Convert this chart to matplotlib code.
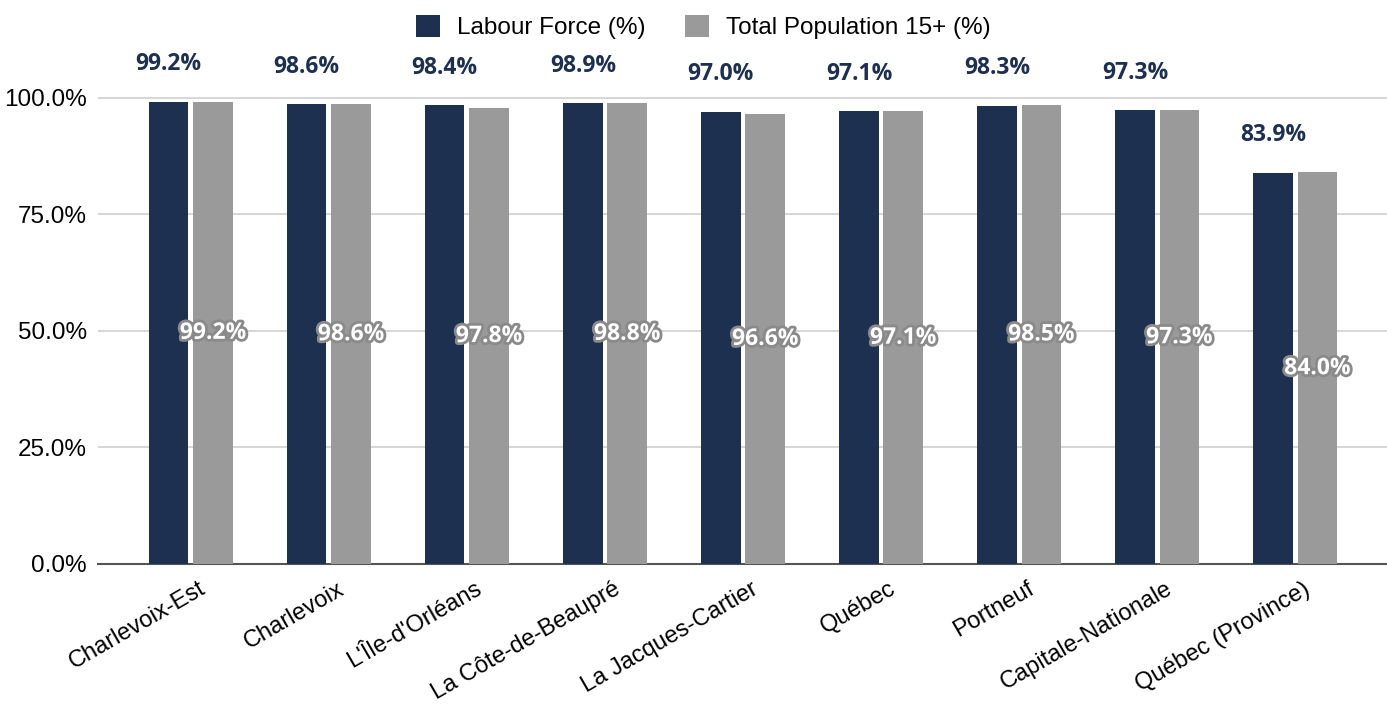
import matplotlib.pyplot as plt
import matplotlib.patheffects as pe
import matplotlib.transforms as mtransforms
import numpy as np

regions = ["Charlevoix-Est", "Charlevoix", "L'Île-d'Orléans", "La Côte-de-Beaupré",
           "La Jacques-Cartier", "Québec", "Portneuf", "Capitale-Nationale",
           "Québec (Province)"]
labour_force = [99.2, 98.6, 98.4, 98.9, 97.0, 97.1, 98.3, 97.3, 83.9]
total_pop = [99.2, 98.6, 97.8, 98.8, 96.6, 97.1, 98.5, 97.3, 84.0]
yticks = [0, 25, 50, 75, 100]

dark = "#1e3050"
grey = "#9a9a9a"

fig = plt.figure(figsize=(13.87, 7.09), dpi=100)
ax = fig.add_axes([98 / 1387, 145 / 709, 1289 / 1387, 564 / 709])

x = np.arange(len(regions))
w = 0.285
off = 0.16
ax.bar(x - off, labour_force, w, color=dark, zorder=3, label="Labour Force (%)")
ax.bar(x + off, total_pop, w, color=grey, zorder=3, label="Total Population 15+ (%)")

for xi, v in zip(x, labour_force):
    ax.annotate(f"{v:.1f}%", (xi - off, v), xytext=(0, 27), textcoords="offset points",
                ha="center", va="center", fontsize=16.5, fontweight="bold",
                color=dark, family="Open Sans")
for xi, v in zip(x, total_pop):
    ax.text(xi + off, v / 2, f"{v:.1f}%", ha="center", va="center", fontsize=16.5,
            fontweight="bold", color="white", family="Open Sans", zorder=5,
            path_effects=[pe.withStroke(linewidth=4, foreground="#8a8a8a")])

ax.set_xlim(-0.672, 8.665)
ax.set_ylim(0, 121)
ax.set_yticks(yticks)
ax.set_yticklabels([f"{t:.1f}%" for t in yticks], fontsize=17.5, family="Liberation Sans")
ax.set_xticks(x)
ax.set_xticklabels(regions, rotation=30, ha="right", rotation_mode="anchor",
                   fontsize=17, family="Liberation Sans")
ax.tick_params(length=0, pad=8)
ax.tick_params(axis="x", pad=10)
# nudge the rotated category labels a little to the right
shift = mtransforms.ScaledTranslation(8 / 100, 0, fig.dpi_scale_trans)
for lbl in ax.get_xticklabels():
    lbl.set_transform(lbl.get_transform() + shift)
ax.grid(axis="y", color="#d0d0d0", linewidth=1.2, zorder=0)
for s in ["top", "right", "left"]:
    ax.spines[s].set_visible(False)
ax.spines["bottom"].set_color("#555555")
ax.spines["bottom"].set_linewidth(1.5)

fig.legend(loc="upper center", bbox_to_anchor=(0.507, 1.01), ncol=2, frameon=False,
           prop={"family": "Liberation Sans", "size": 17.5}, handlelength=1.0,
           handleheight=1.0, columnspacing=1.6, handletextpad=0.7)

plt.savefig("out.png", dpi=100)
